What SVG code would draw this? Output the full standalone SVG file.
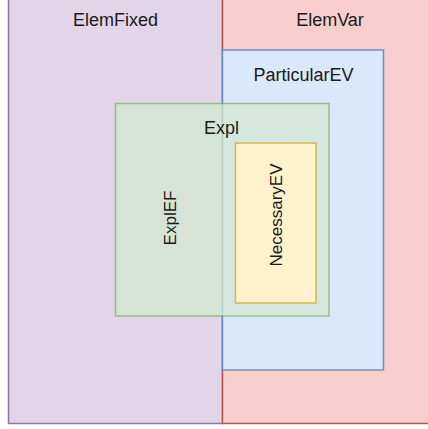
<svg xmlns="http://www.w3.org/2000/svg" width="428" height="429" viewBox="0 0 428 429">
<style>
text{font-family:"Liberation Sans",Arial,Helvetica,sans-serif;font-size:18px;fill:#1a1a1a;text-anchor:middle}
text.v{font-size:17px}
rect{stroke-width:1.5}
</style>
<g id="ElemFixed"><rect x="8.5" y="-10" width="214" height="433.5" fill="#e1d5e7" stroke="#9673a6"/><text x="115.5" y="26">ElemFixed</text></g>
<g id="ElemVar"><rect x="222.5" y="-10" width="220" height="433.5" fill="#f8cecc" stroke="#b85450"/><text x="330" y="26">ElemVar</text></g>
<g id="ParticularEV"><rect x="222.5" y="50" width="161" height="320" fill="#dae8fc" stroke="#6c8ebf"/><text x="303.5" y="81">ParticularEV</text></g>
<g id="Expl" opacity="0.75"><rect x="115.5" y="103.5" width="213.5" height="212.5" fill="#d5e8d4" stroke="#82b366"/></g>
<g id="ExplLabel"><text x="221.5" y="133.5">Expl</text></g>
<g id="ExplEF"><text class="v" transform="translate(175.5,218) rotate(-90)">ExplEF</text></g>
<g id="NecessaryEV"><rect x="235.5" y="143" width="80.5" height="160" fill="#fff2cc" stroke="#d6b656"/><text class="v" transform="translate(282,215) rotate(-90)">NecessaryEV</text></g>
<g id="connectors"/>
</svg>
